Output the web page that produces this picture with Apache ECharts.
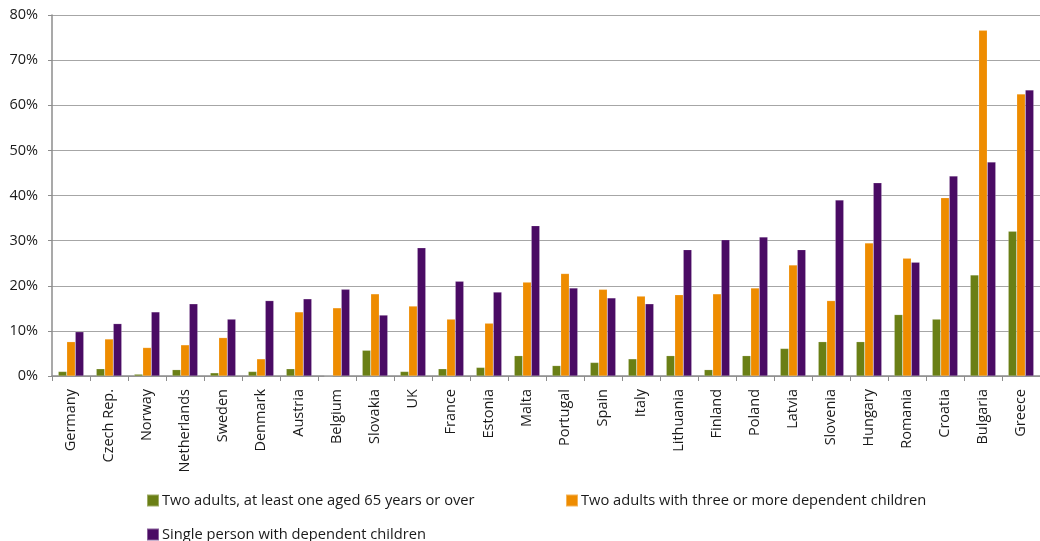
<!DOCTYPE html>
<html>
<head>
<meta charset="utf-8">
<script src="https://cdn.jsdelivr.net/npm/echarts@6/dist/echarts.min.js"></script>
<style>
html,body{margin:0;padding:0;background:#fff;}
#chart{width:1040px;height:541px;}
</style>
</head>
<body>
<div id="chart"></div>
<script>
const categories = ["Germany","Czech Rep.","Norway","Netherlands","Sweden","Denmark","Austria","Belgium","Slovakia","UK","France","Estonia","Malta","Portugal","Spain","Italy","Lithuania","Finland","Poland","Latvia","Slovenia","Hungary","Romania","Croatia","Bulgaria","Greece"];
const seriesNames = ["Two adults, at least one aged 65 years or over","Two adults with three or more dependent children","Single person with dependent children"];
const twoAdults65 = [1.0,1.6,0.4,1.4,0.7,1.0,1.6,0,5.7,1.0,1.6,1.9,4.5,2.3,3.0,3.8,4.5,1.4,4.5,6.1,7.6,7.6,13.6,12.6,22.4,32.1];
const twoAdults3Kids = [7.6,8.2,6.3,6.9,8.5,3.8,14.2,15.1,18.2,15.5,12.6,11.7,20.8,22.7,19.2,17.7,18.0,18.2,19.5,24.6,16.7,29.5,26.1,39.5,76.6,62.5];
const singleParent = [9.8,11.6,14.2,16.0,12.6,16.7,17.1,19.2,13.5,28.4,21.0,18.6,33.3,19.5,17.3,16.0,28.0,30.2,30.8,28.0,39.0,42.8,25.2,44.3,47.4,63.4];
const yTicks = {min:0, max:80, interval:10};

const colors = ["#6a7f15","#ee8c00","#4a0b64"];
const font = "'Open Sans', Lato, sans-serif";
const chart = echarts.init(document.getElementById('chart'), null, {renderer:'canvas'});
const values = [twoAdults65, twoAdults3Kids, singleParent];
const legendPos = [{left:146, top:493},{left:565, top:493},{left:146, top:527}];
chart.setOption({
  animation:false,
  backgroundColor:'#fff',
  grid:{left:52, top:15, right:-6.5, bottom:165, containLabel:false},
  legend: seriesNames.map((n,i)=>({
    data:[n], left:legendPos[i].left, top:legendPos[i].top,
    icon:'rect', itemWidth:12, itemHeight:12, itemGap:0, padding:0,
    textStyle:{fontFamily:font, fontSize:14.7, color:'#1a1a1a', padding:[0,0,0,-2]}
  })),
  xAxis:{
    type:'category', data:categories, boundaryGap:true,
    axisLine:{lineStyle:{color:'#8c8c8c', width:1.5}},
    axisTick:{show:true, alignWithLabel:false, length:5, lineStyle:{color:'#8c8c8c', width:1}},
    axisLabel:{rotate:90, interval:0, fontFamily:font, fontSize:14.5, color:'#1a1a1a', margin:13},
    splitLine:{show:false}
  },
  yAxis:{
    type:'value', min:yTicks.min, max:yTicks.max, interval:yTicks.interval,
    axisLine:{show:true, lineStyle:{color:'#8c8c8c', width:1.5}},
    axisTick:{show:true, length:4, lineStyle:{color:'#8c8c8c'}},
    axisLabel:{formatter:'{value}%', fontFamily:font, fontSize:14.5, color:'#1a1a1a', margin:14},
    splitLine:{lineStyle:{color:'#a6a6a6', width:1}}
  },
  series: seriesNames.map((n,i)=>({
    name:n, type:'bar', data:values[i], barWidth:8.5, barGap:'0%',
    itemStyle:{color:colors[i], borderColor:'rgba(255,255,255,0.35)', borderWidth:0.5}
  }))
});
</script>
</body>
</html>
